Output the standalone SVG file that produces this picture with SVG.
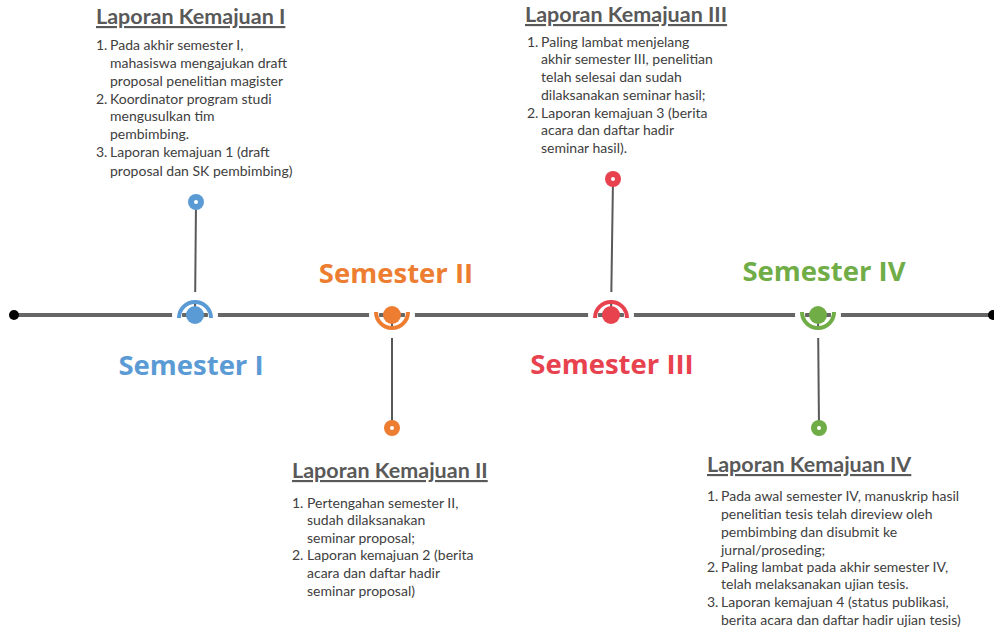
<svg xmlns="http://www.w3.org/2000/svg" width="994" height="634" viewBox="0 0 994 634">
<style>
.h{font-family:Lato,"Open Sans",sans-serif;font-weight:bold;font-size:21.5px;fill:#595959;text-decoration:underline}
.t{font-family:Lato,"Open Sans",sans-serif;font-size:14px;fill:#404040}
.sem{font-family:"Open Sans",Lato,sans-serif;font-weight:bold;font-size:27.5px;text-anchor:middle}
.stem{stroke:#595959;stroke-width:2;fill:none}
.halo{fill:none;stroke:#fff;stroke-width:10}
.arc{fill:none;stroke-width:4}
</style>
<rect width="994" height="634" fill="#fff"/>
<g id="connectors">
<line x1="14" y1="315" x2="993" y2="315" stroke="#666" stroke-width="4"/>
<circle cx="14" cy="315" r="5" fill="#000"/>
<circle cx="993" cy="315" r="5" fill="#000"/>
<line class="stem" x1="196" y1="202" x2="195" y2="315"/>
<line class="stem" x1="392" y1="315" x2="392" y2="428"/>
<line class="stem" x1="613" y1="179" x2="611" y2="315"/>
<line class="stem" x1="818" y1="315" x2="819" y2="428"/>
</g>
<g id="sem1">
<circle class="halo" cx="195" cy="315" r="18"/>
<path class="arc" stroke="#5b9bd5" d="M179 318 A16 16 0 1 1 211 318"/>
<circle cx="195" cy="315" r="9" fill="#5b9bd5"/>
<circle cx="196" cy="202" r="8" fill="#5b9bd5"/><circle cx="196" cy="202" r="2" fill="#fff"/>
<text class="sem" x="191" y="375" fill="#5b9bd5">Semester I</text>
</g>
<g id="sem2">
<circle class="halo" cx="392" cy="315" r="18"/>
<path class="arc" stroke="#ed7d31" d="M376 312 A16 16 0 1 0 408 312"/>
<circle cx="392" cy="315" r="9" fill="#ed7d31"/>
<circle cx="392" cy="428" r="8" fill="#ed7d31"/><circle cx="392" cy="428" r="2" fill="#fff"/>
<text class="sem" x="396" y="283" fill="#ed7d31">Semester II</text>
</g>
<g id="sem3">
<circle class="halo" cx="611" cy="315" r="18"/>
<path class="arc" stroke="#e8424f" d="M595 318 A16 16 0 1 1 627 318"/>
<circle cx="611" cy="315" r="9" fill="#e8424f"/>
<circle cx="613" cy="179" r="8" fill="#e8424f"/><circle cx="613" cy="179" r="2" fill="#fff"/>
<text class="sem" x="612" y="374" fill="#e8424f">Semester III</text>
</g>
<g id="sem4">
<circle class="halo" cx="818" cy="315" r="18"/>
<path class="arc" stroke="#70ad47" d="M802 312 A16 16 0 1 0 834 312"/>
<circle cx="818" cy="315" r="9" fill="#70ad47"/>
<circle cx="819" cy="428" r="8" fill="#70ad47"/><circle cx="819" cy="428" r="2" fill="#fff"/>
<text class="sem" x="824" y="281" fill="#70ad47">Semester IV</text>
</g>
<g id="lap1">
<text class="h" x="96" y="24">Laporan Kemajuan I</text>
<text class="t" x="96" y="50">1.</text><text class="t" x="110" y="50">Pada akhir semester I,</text>
<text class="t" x="110" y="68">mahasiswa mengajukan  draft</text>
<text class="t" x="110" y="86">proposal penelitian  magister</text>
<text class="t" x="96" y="104">2.</text><text class="t" x="110" y="104">Koordinator program studi</text>
<text class="t" x="110" y="121">mengusulkan tim</text>
<text class="t" x="110" y="139">pembimbing.</text>
<text class="t" x="96" y="157">3.</text><text class="t" x="110" y="157">Laporan kemajuan 1 (draft</text>
<text class="t" x="110" y="176">proposal dan SK pembimbing)</text>
</g>
<g id="lap2">
<text class="h" x="292" y="478">Laporan Kemajuan II</text>
<text class="t" x="292" y="508">1.</text><text class="t" x="307" y="508">Pertengahan semester II,</text>
<text class="t" x="307" y="525">sudah dilaksanakan</text>
<text class="t" x="307" y="543">seminar proposal;</text>
<text class="t" x="292" y="560">2.</text><text class="t" x="307" y="560">Laporan kemajuan 2 (berita</text>
<text class="t" x="307" y="578">acara dan daftar hadir</text>
<text class="t" x="307" y="596">seminar proposal)</text>
</g>
<g id="lap3">
<text class="h" x="525" y="22">Laporan Kemajuan III</text>
<text class="t" x="527" y="47">1.</text><text class="t" x="541" y="47">Paling lambat menjelang</text>
<text class="t" x="541" y="64">akhir semester III,  penelitian</text>
<text class="t" x="541" y="82">telah selesai dan sudah</text>
<text class="t" x="541" y="100">dilaksanakan seminar hasil;</text>
<text class="t" x="527" y="118">2.</text><text class="t" x="541" y="118">Laporan kemajuan 3 (berita</text>
<text class="t" x="541" y="135">acara dan daftar hadir</text>
<text class="t" x="541" y="153">seminar hasil).</text>
</g>
<g id="lap4">
<text class="h" x="707" y="472">Laporan Kemajuan IV</text>
<text class="t" x="707" y="501">1.</text><text class="t" x="721" y="501">Pada awal semester IV, manuskrip hasil</text>
<text class="t" x="721" y="519">penelitian  tesis telah direview oleh</text>
<text class="t" x="721" y="537">pembimbing dan disubmit ke</text>
<text class="t" x="721" y="555">jurnal/proseding;</text>
<text class="t" x="707" y="572">2.</text><text class="t" x="721" y="572">Paling lambat pada akhir semester IV,</text>
<text class="t" x="721" y="589">telah melaksanakan ujian tesis.</text>
<text class="t" x="707" y="607">3.</text><text class="t" x="721" y="607">Laporan kemajuan 4 (status publikasi,</text>
<text class="t" x="721" y="625">berita acara dan daftar hadir ujian tesis)</text>
</g>
</svg>
